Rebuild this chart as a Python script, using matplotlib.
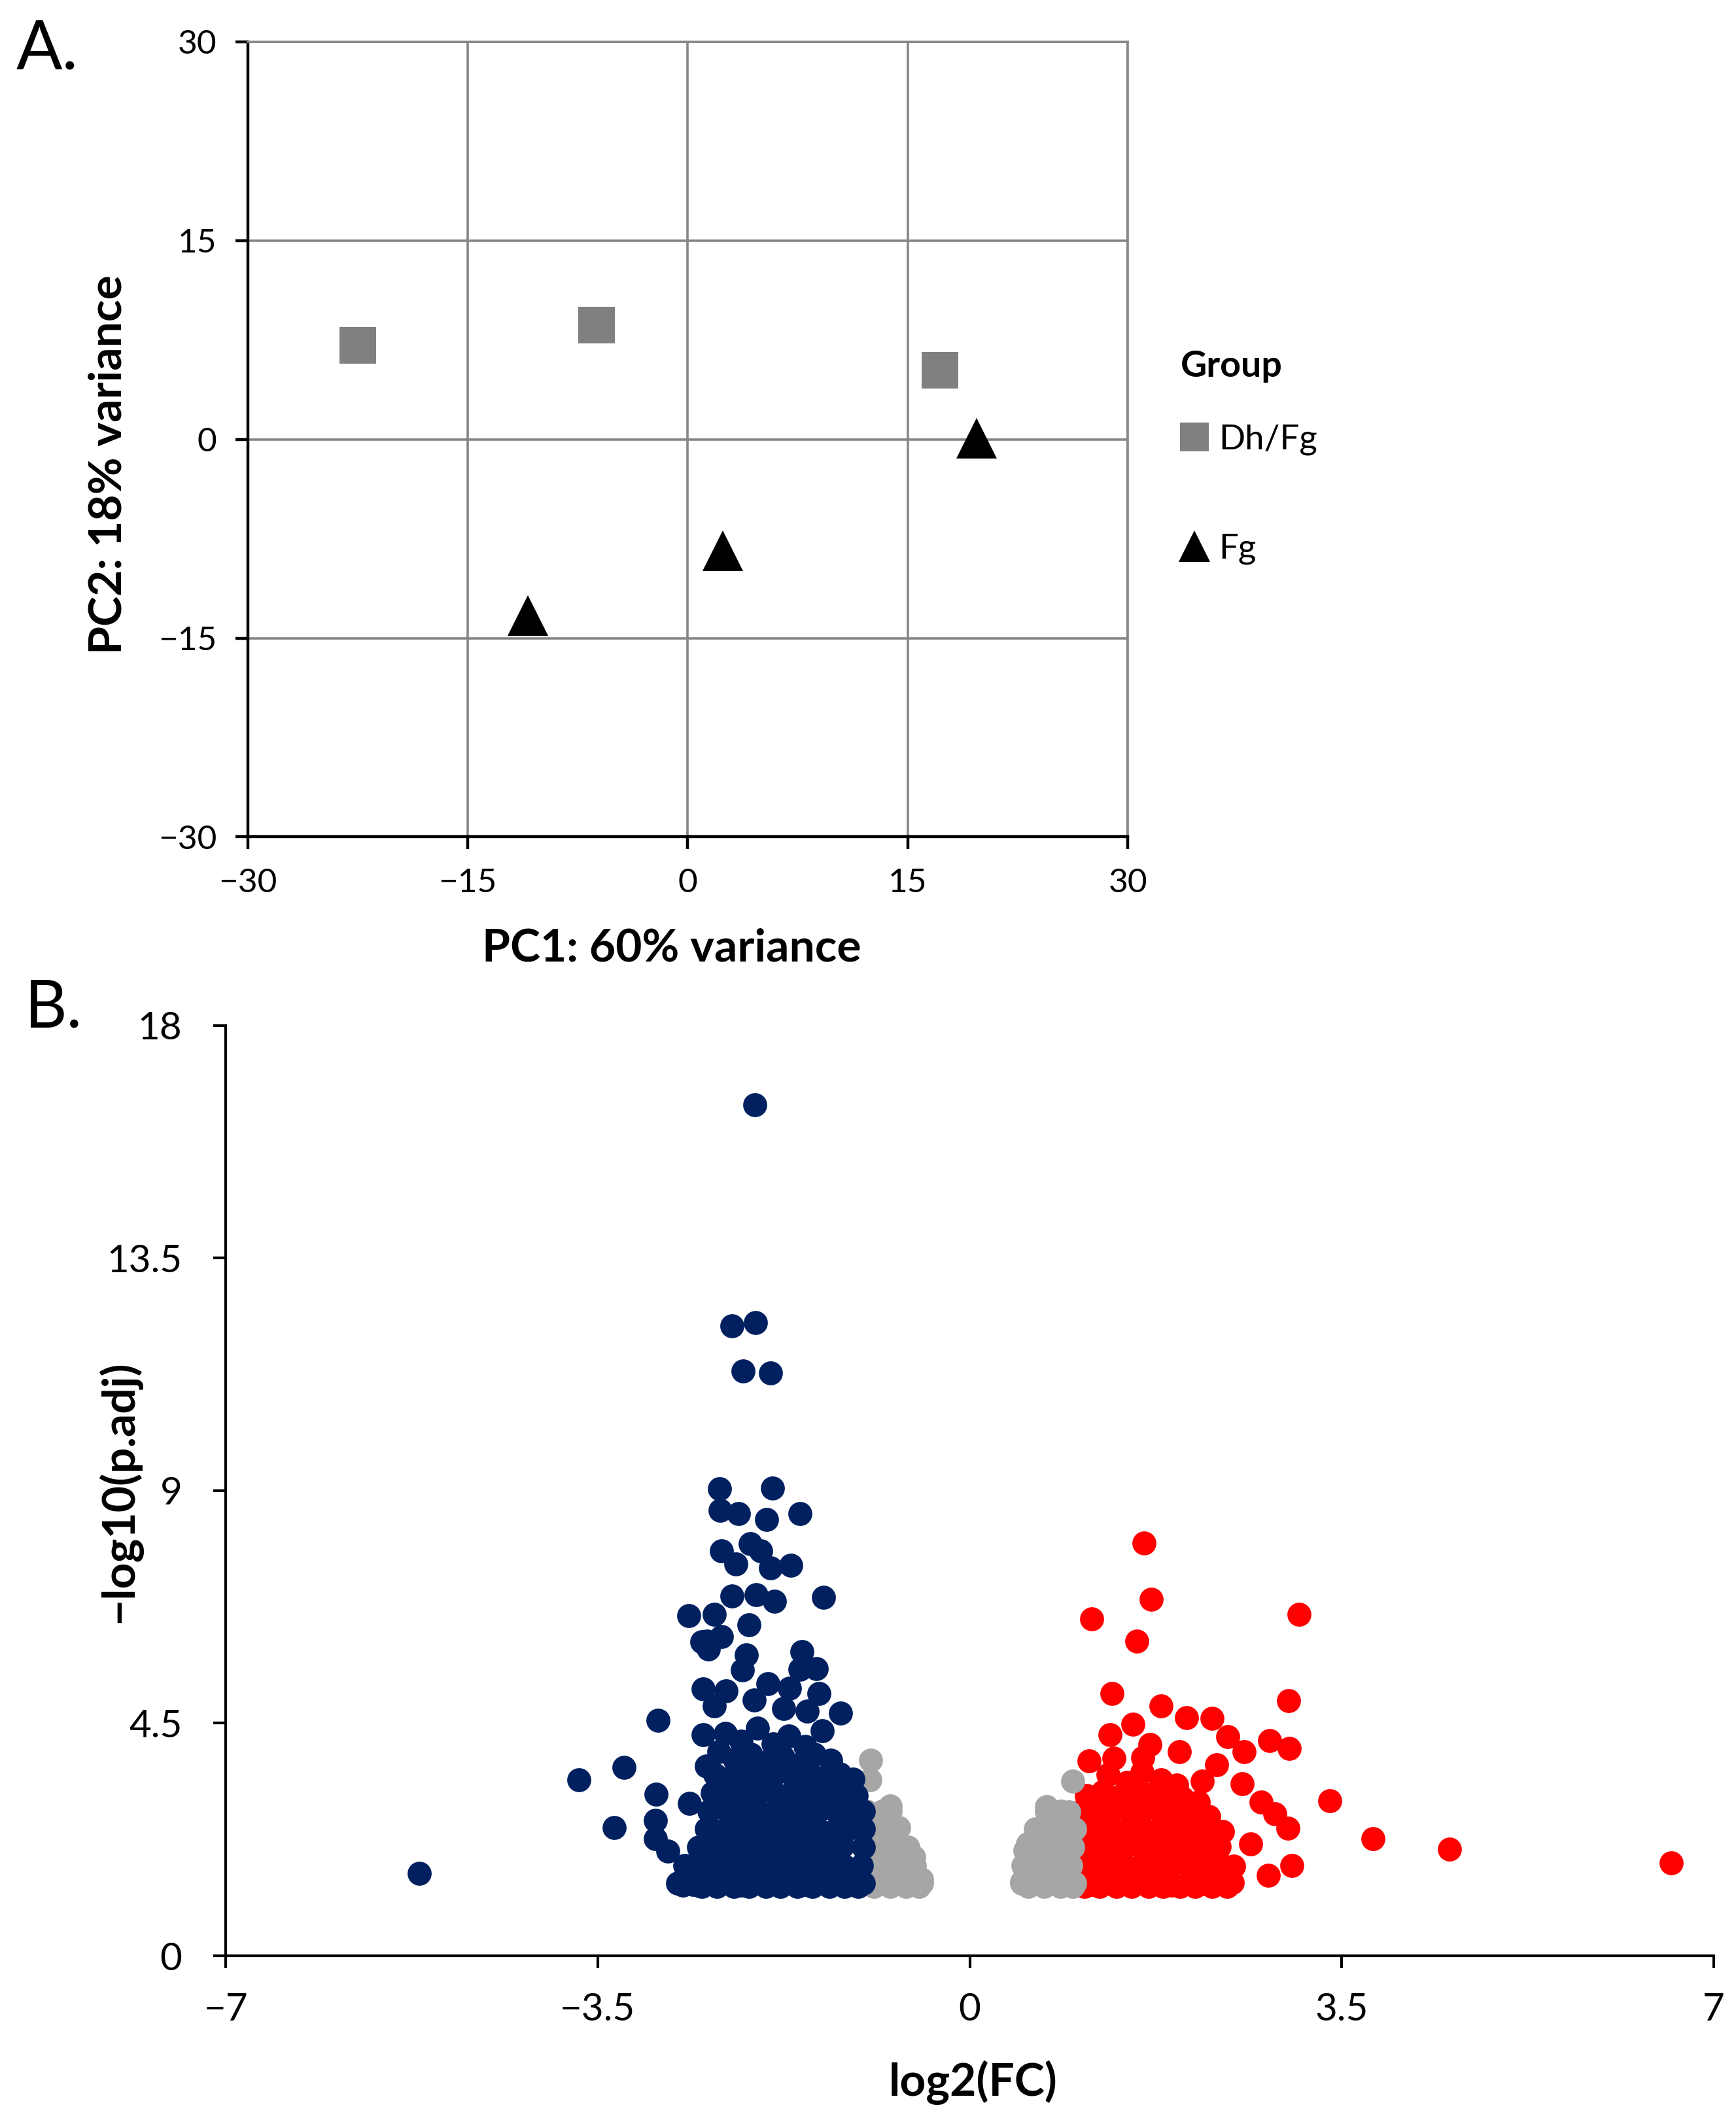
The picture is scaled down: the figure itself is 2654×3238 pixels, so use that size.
import matplotlib
matplotlib.use("Agg")
import matplotlib.pyplot as plt
from matplotlib.ticker import FuncFormatter

plt.rcParams['font.family'] = ['Lato', 'DejaVu Sans']

# ---- panel A: PCA ----
pc_groups = ["Dh/Fg", "Fg"]
pc1_dhfg = [-22.5, -6.2, 17.2]
pc2_dhfg = [7.1, 8.6, 5.2]
pc1_fg = [-10.9, 2.4, 19.7]
pc2_fg = [-13.3, -8.4, 0.1]
pca_ticks = [-30, -15, 0, 15, 30]

# ---- panel B: volcano ----
down_fc = [
    -5.18, -3.675, -3.254, -2.93, -2.95, -3.345, -2.954, -2.954, -2.843, -2.64,
    -2.70, -2.54, -2.52, -2.51, -2.51, -2.48,
    -2.02, -2.24, -2.015, -2.135, -1.872,
    -2.352, -1.858, -2.346, -2.178, -1.913, -1.60, -2.333, -2.063, -1.965, -2.20,
    -1.872, -1.684, -2.237, -2.011, -1.837, -1.378, -2.645, -2.404, -2.076, -2.473,
    -2.337, -2.457, -2.103, -2.138, -1.576, -1.596, -1.442, -1.421, -2.293, -1.899,
    -1.698, -2.402, -2.025, -1.749, -1.53, -1.214, -1.39,
    # dense cloud
    -2.75, -2.60, -2.45, -2.30, -2.15, -2.00, -1.85, -1.70, -1.55, -1.40, -1.25, -1.10, -1.00,
    -2.52, -2.38, -2.22, -2.08, -1.92, -1.78, -1.62, -1.48, -1.32, -1.18, -1.05,
    -2.68, -2.53, -2.38, -2.23, -2.08, -1.93, -1.78, -1.63, -1.48, -1.33, -1.18, -1.02,
    -2.55, -2.40, -2.25, -2.10, -1.95, -1.80, -1.65, -1.50, -1.35, -1.20, -1.00,
    -2.48, -2.33, -2.18, -2.03, -1.88, -1.73, -1.58, -1.43, -1.28, -1.13, -1.00,
    -2.45, -2.30, -2.15, -2.00, -1.85, -1.70, -1.55, -1.40, -1.25, -1.10, -1.00,
    -2.42, -2.27, -2.12, -1.97, -1.82, -1.67, -1.52, -1.37, -1.22, -1.07,
    -2.40, -2.25, -2.10, -1.95, -1.80, -1.65, -1.50, -1.35, -1.22, -1.10,
    -2.36, -2.21, -2.06, -1.91, -1.76, -1.61, -1.46, -1.31,
    -2.30, -2.15, -2.00, -1.85, -1.70, -1.55,
]
down_p = [
    1.60, 3.40, 3.64, 4.55, 3.13, 2.48, 2.62, 2.27, 2.03, 2.95,
    1.37, 1.35, 6.07, 5.16, 4.28, 3.67,
    16.46, 12.19, 12.25, 11.31, 11.27,
    9.03, 9.05, 8.62, 8.56, 8.44, 8.56, 7.83, 7.97, 7.83, 7.58,
    7.50, 7.56, 6.96, 6.98, 6.86, 6.94, 6.58, 6.61, 6.41, 6.09,
    6.18, 5.93, 5.82, 5.53, 5.88, 5.54, 5.55, 5.07, 5.12, 5.26,
    5.18, 4.83, 4.95, 4.79, 4.73, 4.69, 4.35,
    1.40, 1.38, 1.42, 1.40, 1.37, 1.41, 1.39, 1.40, 1.38, 1.41, 1.40, 1.39, 1.40,
    1.34, 1.34, 1.34, 1.34, 1.34, 1.34, 1.34, 1.34, 1.34, 1.34, 1.34,
    1.75, 1.72, 1.78, 1.74, 1.76, 1.73, 1.77, 1.75, 1.72, 1.76, 1.74, 1.75,
    2.10, 2.07, 2.12, 2.09, 2.13, 2.08, 2.11, 2.10, 2.07, 2.12, 2.10,
    2.45, 2.42, 2.47, 2.44, 2.48, 2.43, 2.46, 2.45, 2.42, 2.47, 2.45,
    2.80, 2.83, 2.78, 2.82, 2.77, 2.81, 2.79, 2.84, 2.78, 2.80, 2.80,
    3.15, 3.18, 3.12, 3.17, 3.13, 3.16, 3.11, 3.18, 3.14, 3.10,
    3.50, 3.46, 3.53, 3.48, 3.55, 3.45, 3.52, 3.47, 3.52, 3.42,
    3.95, 3.80, 3.90, 3.75, 3.85, 3.70, 3.90, 3.78,
    4.30, 4.15, 4.40, 4.10, 4.25, 4.05,
]

up_fc = [
    1.638, 1.705, 1.15, 1.571, 3.096, 1.338, 2.997, 1.799, 2.038, 2.277,
    1.534, 1.321, 2.428, 2.579, 2.82, 3.005, 1.123, 1.355, 1.698, 1.627,
    1.97, 2.324, 3.39, 2.186, 2.56, 2.744, 2.868, 2.991, 2.646, 3.793,
    2.812, 3.032, 4.513, 6.60,
    # dense cloud
    1.00, 1.15, 1.30, 1.45, 1.60, 1.75, 1.90, 2.05, 2.20, 2.35, 2.47,
    1.08, 1.22, 1.38, 1.52, 1.68, 1.82, 1.98, 2.12, 2.28, 2.42,
    1.02, 1.17, 1.32, 1.47, 1.62, 1.77, 1.92, 2.07, 2.22, 2.37, 2.48,
    1.00, 1.15, 1.30, 1.45, 1.60, 1.75, 1.90, 2.05, 2.20, 2.35,
    1.03, 1.18, 1.33, 1.48, 1.63, 1.78, 1.93, 2.08, 2.23, 2.38,
    1.05, 1.20, 1.35, 1.50, 1.65, 1.80, 1.95, 2.10, 2.25,
    1.10, 1.25, 1.40, 1.55, 1.70, 1.85, 2.00, 2.15,
    1.30, 1.48, 1.62, 1.80, 1.95,
]
up_p = [
    7.98, 6.90, 6.52, 6.09, 6.61, 5.08, 4.94, 4.84, 4.61, 4.59,
    4.48, 4.28, 4.24, 3.95, 4.16, 4.01, 3.77, 3.82, 4.09, 3.84,
    3.95, 3.70, 3.00, 3.38, 3.33, 2.98, 2.74, 2.47, 2.17, 2.27,
    1.56, 1.75, 2.06, 1.80,
    1.40, 1.38, 1.41, 1.39, 1.42, 1.40, 1.37, 1.41, 1.39, 1.40, 1.42,
    1.34, 1.34, 1.34, 1.34, 1.34, 1.34, 1.34, 1.34, 1.34, 1.34,
    1.75, 1.73, 1.77, 1.74, 1.76, 1.72, 1.78, 1.75, 1.73, 1.76, 1.74,
    2.10, 2.08, 2.12, 2.09, 2.11, 2.07, 2.13, 2.10, 2.08, 2.11,
    2.45, 2.43, 2.47, 2.42, 2.46, 2.44, 2.48, 2.43, 2.46, 2.41,
    2.80, 2.76, 2.83, 2.78, 2.84, 2.77, 2.82, 2.75, 2.70,
    3.10, 3.18, 3.08, 3.20, 3.12, 3.17, 3.05, 2.98,
    3.50, 3.35, 3.55, 3.40, 3.30,
]

ns_fc = [
    -0.933, -0.936, -0.748, -0.665, -0.524, -0.451,
    -0.97, -0.82, -0.67, -0.52, -0.45,
    -0.90, -0.75, -0.60, -0.48,
    -0.97, -0.82, -0.67, -0.52,
    -0.97, -0.82, -0.67, -0.58,
    -0.97, -0.82, -0.68,
    -0.97, -0.82, -0.75,
    0.971, 0.724, 0.931, 0.987, 0.724, 0.545, 0.517, 0.491,
    0.49, 0.62, 0.77, 0.92, 0.99,
    0.55, 0.70, 0.85, 0.97,
    0.50, 0.65, 0.80, 0.95,
    0.54, 0.68, 0.83, 0.97,
    0.62, 0.77, 0.92,
    0.72, 0.86,
]
ns_p = [
    3.79, 3.41, 2.90, 2.48, 1.91, 1.48,
    1.40, 1.40, 1.40, 1.40, 1.40,
    1.34, 1.34, 1.34, 1.34,
    1.75, 1.75, 1.75, 1.75,
    2.10, 2.10, 2.10, 2.10,
    2.45, 2.45, 2.45,
    2.80, 2.80, 2.80,
    3.38, 2.88, 2.79, 2.45, 2.51, 2.17, 2.04, 1.43,
    1.40, 1.40, 1.40, 1.40, 1.40,
    1.34, 1.34, 1.34, 1.34,
    1.75, 1.75, 1.75, 1.75,
    2.10, 2.10, 2.10, 2.10,
    2.45, 2.45, 2.45,
    2.80, 2.80,
]
volcano_xticks = [-7, -3.5, 0, 3.5, 7]
volcano_yticks = [0, 4.5, 9, 13.5, 18]


def num_fmt(v, pos):
    return "{:g}".format(v).replace("-", "\u2212")


W, H = 2654, 3238
fig = plt.figure(figsize=(W / 100, H / 100), dpi=100)

# ---------------- A ----------------
ax1 = fig.add_axes([378.6 / W, 1 - 1279.4 / H, 1345.6 / W, 1215.6 / H])
ax1.plot(pc1_dhfg, pc2_dhfg, ls='none', marker='s', ms=40, color='#808080',
         mew=0, zorder=3, label=pc_groups[0])
ax1.plot(pc1_fg, pc2_fg, ls='none', marker='^', ms=44, color='black',
         mew=0, zorder=3, label=pc_groups[1])
ax1.set_xlim(-30, 30)
ax1.set_ylim(-30, 30)
ax1.set_xticks(pca_ticks)
ax1.set_yticks(pca_ticks)
ax1.xaxis.set_major_formatter(FuncFormatter(num_fmt))
ax1.yaxis.set_major_formatter(FuncFormatter(num_fmt))
ax1.grid(True, color='#868686', lw=2.6)
ax1.set_axisbelow(True)
for s in ['top', 'right']:
    ax1.spines[s].set_color('#868686')
    ax1.spines[s].set_linewidth(2.6)
for s in ['left', 'bottom']:
    ax1.spines[s].set_color('black')
    ax1.spines[s].set_linewidth(3.2)
ax1.tick_params(axis='both', direction='out', length=14, width=3.2,
                labelsize=37, color='black')
ax1.tick_params(axis='y', pad=20)
ax1.tick_params(axis='x', pad=20)
ax1.set_xlabel("PC1: 60% variance", fontsize=50, fontweight='bold')
ax1.set_ylabel("PC2: 18% variance", fontsize=50, fontweight='bold')
ax1.xaxis.set_label_coords(0.482, -0.140)
ax1.yaxis.set_label_coords(-0.158, 0.468)

leg = ax1.legend(title="Group", loc='upper left',
                 bbox_to_anchor=(1805 / W, 1 - 535 / H),
                 bbox_transform=fig.transFigure, frameon=False,
                 fontsize=38, title_fontproperties={'weight': 'bold', 'size': 40},
                 markerscale=0.78, handlelength=0.8, handletextpad=0.3,
                 labelspacing=2.25, borderpad=0, borderaxespad=0)
leg._legend_box.align = 'left'
leg._legend_box.sep = 46

# ---------------- B ----------------
ax2 = fig.add_axes([345 / W, 1 - 2990 / H, 2275 / W, 1422.3 / H])
ax2.scatter(up_fc, up_p, s=700, color='#FF0000', linewidths=0, zorder=2)
ax2.scatter(ns_fc, ns_p, s=700, color='#A6A6A6', linewidths=0, zorder=3)
ax2.scatter(down_fc, down_p, s=700, color='#002060', linewidths=0, zorder=4)
ax2.set_xlim(-7, 7)
ax2.set_ylim(0, 18)
ax2.set_xticks(volcano_xticks)
ax2.set_yticks(volcano_yticks)
ax2.xaxis.set_major_formatter(FuncFormatter(num_fmt))
ax2.yaxis.set_major_formatter(FuncFormatter(num_fmt))
for s in ['top', 'right']:
    ax2.spines[s].set_visible(False)
for s in ['left', 'bottom']:
    ax2.spines[s].set_linewidth(3.0)
ax2.tick_params(axis='both', direction='out', length=14, width=3.0, labelsize=42)
ax2.tick_params(axis='y', pad=34)
ax2.tick_params(axis='x', pad=26)
ax2.set_xlabel("log2(FC)", fontsize=50, fontweight='bold')
ax2.set_ylabel("\u2212log10(p.adj)", fontsize=50, fontweight='bold')
ax2.xaxis.set_label_coords(0.5024, -0.136)
ax2.yaxis.set_label_coords(-0.0717, 0.499)
for lab in [ax1.xaxis.label, ax1.yaxis.label, ax2.xaxis.label, ax2.yaxis.label]:
    lab.set_va('center')

fig.text(25 / W, 1 - 105 / H, "A.", fontsize=75, ha='left', va='baseline')
fig.text(38 / W, 1 - 1570 / H, "B.", fontsize=72, ha='left', va='baseline')

fig.savefig("out.png", dpi=100)
